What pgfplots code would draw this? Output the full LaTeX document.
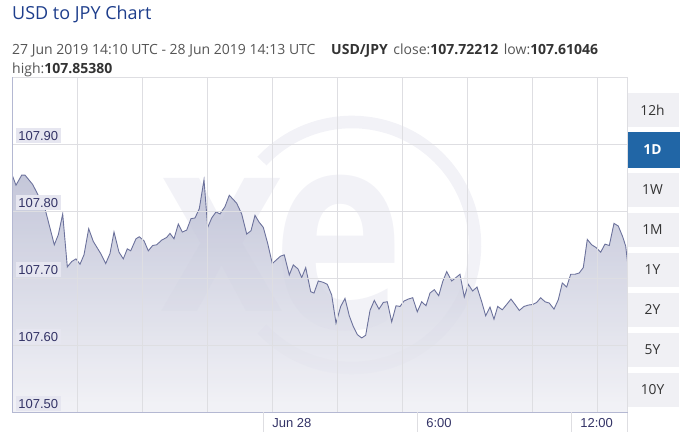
\documentclass[border=0pt]{standalone}
\usepackage{fontspec}
\setmainfont{Open Sans}
\newfontfamily\lib{Liberation Sans}
\usepackage{graphicx}
\usepackage{pgfplots}
\usepackage{pgfplotstable}
\pgfplotsset{compat=1.18}
\definecolor{titleblue}{RGB}{30,62,140}
\definecolor{subgray}{RGB}{85,85,85}
\definecolor{subdark}{RGB}{51,51,51}
\definecolor{tickblue}{RGB}{51,51,102}
\definecolor{lblbg}{RGB}{230,230,240}
\definecolor{gridgray}{RGB}{222,222,226}
\definecolor{axisblue}{RGB}{180,184,210}
\definecolor{linec}{RGB}{108,114,156}
\definecolor{filltop}{RGB}{186,189,211}
\definecolor{fillbot}{RGB}{240,240,245}
\definecolor{wm}{RGB}{242,242,247}
\definecolor{btn}{RGB}{240,240,244}
\definecolor{btnblue}{RGB}{33,102,166}

\pgfplotstableread{
h p
-9.778 107.850
-9.763 107.852
-9.634 107.839
-9.412 107.854
-9.283 107.854
-8.983 107.840
-8.504 107.804
-8.142 107.750
-7.986 107.765
-7.815 107.796
-7.635 107.717
-7.464 107.725
-7.297 107.729
-7.141 107.721
-6.985 107.735
-6.802 107.774
-6.623 107.755
-6.334 107.737
-6.139 107.722
-5.972 107.737
-5.816 107.769
-5.621 107.739
-5.454 107.729
-5.298 107.744
-5.166 107.741
-4.959 107.759
-4.831 107.762
-4.647 107.756
-4.480 107.741
-4.309 107.749
-4.153 107.750
-3.958 107.757
-3.763 107.761
-3.635 107.767
-3.479 107.759
-3.311 107.781
-3.155 107.769
-2.984 107.772
-2.817 107.789
-2.661 107.790
-2.493 107.804
-2.310 107.847
-2.166 107.776
-2.010 107.790
-1.843 107.799
-1.687 107.796
-1.492 107.807
-1.325 107.824
-1.036 107.812
-0.841 107.796
-0.647 107.766
-0.479 107.771
-0.323 107.794
-0.168 107.784
0.000 107.776
0.171 107.752
0.351 107.722
0.495 107.727
0.670 107.733
0.818 107.735
1.013 107.705
1.169 107.720
1.352 107.714
1.496 107.701
1.652 107.716
1.847 107.680
1.975 107.678
2.143 107.696
2.337 107.694
2.493 107.691
2.665 107.675
2.832 107.633
3.015 107.658
3.183 107.670
3.350 107.644
3.506 107.628
3.662 107.616
3.833 107.611
3.989 107.615
4.157 107.652
4.324 107.667
4.507 107.654
4.675 107.664
4.831 107.665
5.002 107.635
5.170 107.659
5.325 107.658
5.481 107.666
5.649 107.669
5.820 107.671
5.999 107.650
6.171 107.665
6.338 107.659
6.494 107.678
6.661 107.683
6.833 107.674
6.989 107.695
7.145 107.710
7.339 107.696
7.663 107.706
7.830 107.672
7.986 107.691
8.157 107.681
8.325 107.687
8.508 107.665
8.664 107.644
8.831 107.657
8.987 107.639
9.131 107.658
9.310 107.653
9.482 107.661
9.649 107.669
9.805 107.661
9.973 107.652
10.156 107.658
10.323 107.660
10.495 107.661
10.651 107.664
10.806 107.671
10.974 107.665
11.141 107.663
11.325 107.654
11.492 107.668
11.648 107.693
11.819 107.687
11.975 107.706
12.143 107.706
12.310 107.708
12.466 107.716
12.622 107.758
12.793 107.750
12.961 107.746
13.144 107.739
13.311 107.751
13.479 107.749
13.662 107.782
13.829 107.778
14.001 107.762
14.118 107.748
14.196 107.722
}\usdjpy

\begin{document}
\begin{tikzpicture}[x=1pt,y=1pt]
\useasboundingbox (0pt,0pt) rectangle (686pt,-441pt);
% watermark
\draw[wm, line width=12.6pt] (262.0pt,-161.1pt) arc[start angle=137,end angle=-137,radius=123pt];
\node[text=wm, inner sep=0, anchor=center] at (221.5pt,-244.5pt) {\resizebox{123pt}{133pt}{\bfseries x}};
\node[text=wm, inner sep=0, anchor=center] at (339pt,-253.5pt) {\resizebox{132pt}{153pt}{\bfseries e}};

\begin{axis}[
  at={(12.3pt,-77.3pt)}, anchor=north west,
  scale only axis, width=615.4pt, height=335pt,
  xmin=-9.778, xmax=14.196, ymin=107.5, ymax=108.0,
  axis on top,
  axis line style={draw=none},
  xtick={0,6,12}, xticklabels={Jun 28,6:00,12:00},
  major tick length=0pt,
  ytick={107.5,107.6,107.7,107.8,107.9},
  ymajorgrids,
  major grid style={gridgray, line width=0.7pt},
  extra x ticks={-7.246,-4.714,-2.182,0.350,2.882,5.414,7.946,10.478,13.010},
  extra x tick labels={},
  extra x tick style={grid=major},
  /pgf/number format/assume math mode=true,
  yticklabel style={font=\lib\fontsize{13}{13}\selectfont, text=tickblue,
    anchor=south west, xshift=3.4pt, yshift=1pt, fill=lblbg,
    inner xsep=2.5pt, inner ysep=2.7pt, text height=9.4pt, text depth=0pt,
    /pgf/number format/fixed, /pgf/number format/fixed zerofill,
    /pgf/number format/precision=2},
  xticklabel style={font=\lib\fontsize{13}{13}\selectfont, text=tickblue,
    anchor=west, xshift=5.5pt, yshift=-10.5pt},
]
\addplot[draw=none, top color=filltop, bottom color=fillbot, fill opacity=0.85]
  table[x=h,y=p] {\usdjpy} -- (14.196,107.5) -- (-9.778,107.5) -- cycle;
\addplot[linec, line width=0.9pt, mark=none] table[x=h,y=p] {\usdjpy};
\end{axis}
% frame
\draw[gridgray, line width=0.8pt] (12.3pt,-77.3pt) -- (627.7pt,-77.3pt);
\draw[gridgray, line width=0.8pt] (627.7pt,-77.3pt) -- (627.7pt,-432pt);
\draw[axisblue, line width=1pt] (12.3pt,-77.3pt) -- (12.3pt,-412.3pt) -- (627.7pt,-412.3pt);
\foreach \tx in {263.3,417.3,571.3}{\draw[gridgray, line width=0.8pt] (\tx pt,-412.3pt) -- (\tx pt,-432pt);}
% buttons
\foreach \lab [count=\i from 0] in {12h,,1W,1M,1Y,2Y,5Y,10Y}{
  \ifnum\i=1\else
  \pgfmathsetmacro\top{93.3+40*\i}
  \pgfmathsetmacro\bot{\top+33.4}
  \pgfmathsetmacro\mid{\top+16.7}
  \fill[btn] (627.7pt,-\top pt) rectangle (679pt,-\bot pt);
  \node[text=subdark, font=\fontsize{13.8}{13.8}\selectfont] at (652.5pt,-\mid pt) {\lab};
  \fi
}
\fill[btnblue] (627.7pt,-131.7pt) rectangle (680pt,-167.7pt);
\node[text=white, font=\fontsize{13.8}{13.8}\selectfont\bfseries] at (652.5pt,-149.7pt) {1D};
% titles
\node[anchor=base west, inner sep=0, font=\fontsize{18}{18}\selectfont, text=titleblue] at (12pt,-19.3pt) {USD to JPY Chart};
\node[anchor=base west, inner sep=0, font=\fontsize{14}{14}\selectfont, text=subgray] at (12pt,-54.3pt) {27 Jun 2019 14:10 UTC - 28 Jun 2019 14:13 UTC};
\node[anchor=base west, inner sep=0, font=\fontsize{14}{14}\selectfont, text=subgray] at (331pt,-54.3pt) {\textcolor{subdark}{\bfseries USD/JPY}\hspace{2pt} close:\textcolor{subdark}{\bfseries 107.72212}\hspace{2pt} low:\textcolor{subdark}{\bfseries 107.61046}};
\node[anchor=base west, inner sep=0, font=\fontsize{14}{14}\selectfont, text=subgray] at (12pt,-74pt) {high:\textcolor{subdark}{\bfseries 107.85380}};
\end{tikzpicture}
\end{document}
